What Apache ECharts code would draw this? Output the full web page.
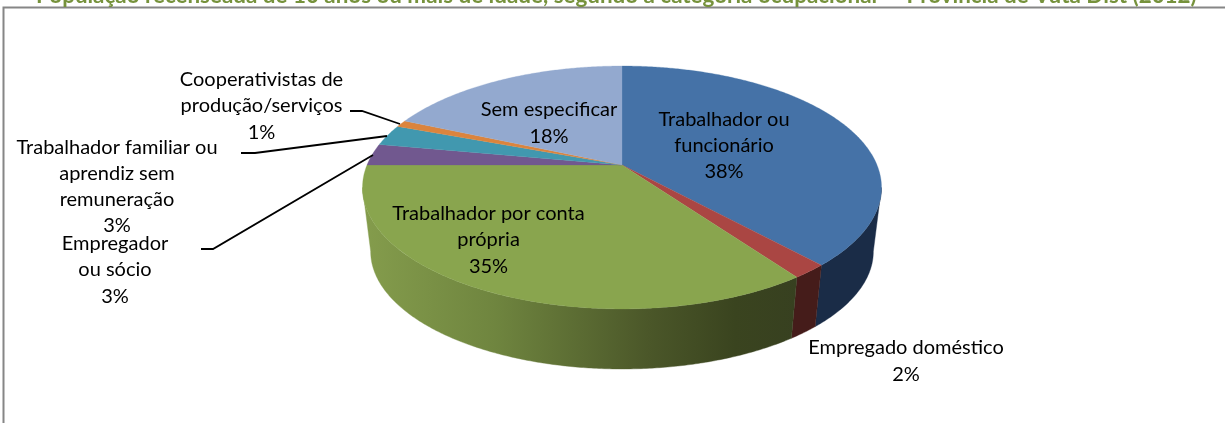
<!DOCTYPE html>
<html>
<head>
<meta charset="utf-8">
<style>html,body{margin:0;padding:0;background:#fff}#c{width:1225px;height:423px}</style>
<script src="https://cdn.jsdelivr.net/npm/echarts@6/dist/echarts.min.js"></script>
</head>
<body>
<div id="c"></div>
<script>
var titleText = 'População recenseada de 10 anos ou mais de idade, segundo a categoria ocupacional  – Província de Vuta Dist (2012)';
var categories = ['Trabalhador ou\nfuncionário','Empregado doméstico','Trabalhador por conta\nprópria','Empregador\nou sócio','Trabalhador familiar ou\naprendiz sem\nremuneração','Cooperativistas de\nprodução/serviços','Sem especificar'];
var values = [38.2, 1.9, 34.9, 2.9, 2.8, 0.9, 18.4];
var topColors = ['#4572a7','#aa4643','#89a54e','#71588f','#4198af','#db843d','#93a9cf'];

/* layout of labels and leader lines */
var labelCenters = [[724,145.5],[906,361],[488.5,240],[115,270],[117,186.5],[261.5,106],[549,123]];
var leaders = [null,null,null,
  [[201,249],[213,249],[373,155]],
  [[241,153],[255,153],[387,136]],
  [[350,111],[362,111],[400,124]],
  null];

var FONT = 'Lato, "Open Sans", sans-serif';
var total = values.reduce(function(a,b){return a+b;},0);
var cum = [0];
values.forEach(function(v,i){cum.push(cum[i]+v/total*360);});

/* perspective view of the two discs */
var persp = 0.185;
var topDisc = {cx:622, cy:165, b:255, a:117.3};
var botDisc = {cx:622, cy:229.6, b:247, a:113.6};
var tangent = Math.acos(-persp)*180/Math.PI;
function project(d, deg){
  var t = deg*Math.PI/180, u = Math.sin(t), v = Math.cos(t), w = 1 + persp*v;
  return [d.cx + d.b*u/w, d.cy - d.a*v/w];
}
function arc(d, a0, a1){
  var n = Math.max(2, Math.ceil(Math.abs(a1-a0)/0.5)), pts = [];
  for (var i=0;i<=n;i++) pts.push(project(d, a0+(a1-a0)*i/n));
  return pts;
}
var green = {type:'linear',x:365,y:0,x2:800,y2:0,global:true,colorStops:[
  {offset:0,color:'#849c4c'},{offset:0.3,color:'#6f853f'},{offset:0.65,color:'#4b5729'},
  {offset:0.85,color:'#3a441f'},{offset:1,color:'#374020'}]};
var wallColors = ['#1a2c47','#451c1a',green,'#3c2f4d','#23525e','#75461f','#4e5a6f'];

function renderWall(params){
  var i = params.dataIndex;
  var a0 = Math.max(cum[i],tangent), a1 = Math.min(cum[i+1],360-tangent);
  if (a1 <= a0) return {type:'group',children:[]};
  var pts = arc(topDisc,a0,a1).concat(arc(botDisc,a1,a0));
  return {type:'polygon',shape:{points:pts},style:{fill:wallColors[i],stroke:wallColors[i],lineWidth:0.4}};
}
function renderTop(params){
  var i = params.dataIndex;
  var pts = [[topDisc.cx,topDisc.cy]].concat(arc(topDisc,cum[i],cum[i+1]));
  return {type:'polygon',shape:{points:pts},style:{fill:topColors[i],stroke:topColors[i],lineWidth:0.3}};
}
function renderLabel(params){
  var i = params.dataIndex, kids = [];
  if (leaders[i]) kids.push({type:'polyline',shape:{points:leaders[i]},style:{fill:null,stroke:'#000',lineWidth:1.8}});
  kids.push({type:'text',style:{
    text:categories[i]+'\n'+Math.round(values[i]/total*100)+'%',
    x:labelCenters[i][0],y:labelCenters[i][1],align:'center',verticalAlign:'middle',
    lineHeight:26.3,fontFamily:FONT,fontSize:20,fill:'#000'}});
  return {type:'group',children:kids};
}
var seriesData = categories.map(function(n,i){return {name:n,value:values[i]};});
function layer(fn,z){
  return {type:'custom',coordinateSystem:'none',renderItem:fn,data:seriesData,z:z,silent:true,animation:false,clip:false};
}
var chart = echarts.init(document.getElementById('c'),null,{renderer:'canvas'});
chart.setOption({
  backgroundColor:'#fff',
  animation:false,
  title:{text:titleText,left:36,top:-15,padding:0,textStyle:{color:'#76923c',fontFamily:FONT,fontWeight:'bold',fontSize:22.4}},
  graphic:[{type:'rect',shape:{x:3.5,y:7.5,width:1400,height:600},style:{fill:null,stroke:'#868686',lineWidth:2},silent:true,z:0}],
  series:[layer(renderWall,2),layer(renderTop,3),layer(renderLabel,4)]
});
</script>
</body>
</html>
